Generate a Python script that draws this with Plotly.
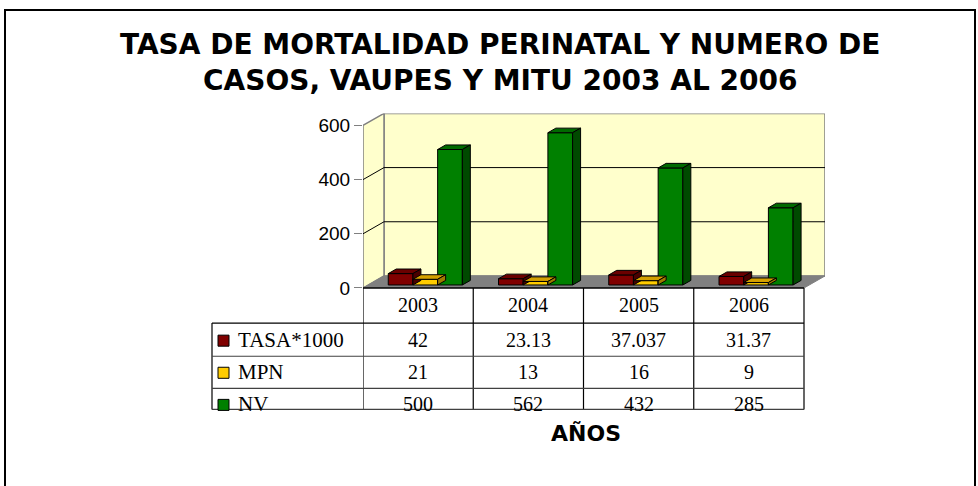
import plotly.graph_objects as go

# ---------------- data ----------------
years = ["2003", "2004", "2005", "2006"]
series_names = ["TASA*1000", "MPN", "NV"]
tasa = [42, 23.13, 37.037, 31.37]
mpn = [21, 13, 16, 9]
nv = [500, 562, 432, 285]
y_ticks = [0, 200, 400, 600]
title_text = "TASA DE MORTALIDAD PERINATAL Y NUMERO DE<br>CASOS, VAUPES Y MITU 2003 AL 2006"
x_title = "AÑOS"

# ---------------- styles ----------------
front_cols = ["#800000", "#FFCC00", "#008000"]
top_cols = ["#6a0000", "#D4A000", "#006a00"]
side_cols = ["#4a0000", "#A07A00", "#004a00"]
WALL = "#FFFFCC"
FLOOR = "#808080"
EDGE = "#808080"

W, H = 978, 486
S = 0.974   # vertical calibration of the capture
def px(x): return x / W
def py(y): return 1 - y / (H * S)

CAT_PX = 110.25          # pixel width of one category on the front plane
DEPTH_PX, DEPTH_PY = 21, 12
PX_PER_UNIT = 0.27       # vertical px per value unit
X0_PX, Y0_PX = 363, 287  # front-left-bottom corner
DXu = DEPTH_PX / CAT_PX
DYu = DEPTH_PY / PX_PER_UNIT
YTOP = 600
n = len(years)
ymax = (YTOP * PX_PER_UNIT + DEPTH_PY) / PX_PER_UNIT

ZB0, ZB1 = 0.25, 0.63     # bar depth positions (fraction of depth)
OFF = 20 / CAT_PX
BW = 24.7 / CAT_PX

fig = go.Figure()

values = [tasa, mpn, nv]
for s, vals in enumerate(values):
    xs_front = [i + OFF + (s + 0.5) * BW + ZB0 * DXu for i in range(n)]
    base = ZB0 * DYu
    fig.add_trace(go.Bar(x=xs_front, y=vals, base=[base] * n, width=BW,
                         marker=dict(color=front_cols[s], line=dict(color="black", width=1)),
                         name=series_names[s], showlegend=False, hoverinfo="skip"))
    ddx = (ZB1 - ZB0) * DXu
    ddy = (ZB1 - ZB0) * DYu
    tx, ty, sx, sy = [], [], [], []
    for i, v in enumerate(vals):
        xl = xs_front[i] - BW / 2
        xr = xs_front[i] + BW / 2
        top = base + v
        tx += [xl, xr, xr + ddx, xl + ddx, xl, None]
        ty += [top, top, top + ddy, top + ddy, top, None]
        sx += [xr, xr, xr + ddx, xr + ddx, xr, None]
        sy += [base, top, top + ddy, base + ddy, base, None]
    fig.add_trace(go.Scatter(x=tx, y=ty, fill="toself", fillcolor=top_cols[s], mode="lines",
                             line=dict(color="black", width=1), showlegend=False, hoverinfo="skip"))
    fig.add_trace(go.Scatter(x=sx, y=sy, fill="toself", fillcolor=side_cols[s], mode="lines",
                             line=dict(color="black", width=1), showlegend=False, hoverinfo="skip"))

shapes = []
# back wall
shapes.append(dict(type="rect", xref="x", yref="y", x0=DXu, x1=n + DXu, y0=DYu, y1=YTOP + DYu,
                   fillcolor=WALL, line=dict(color=EDGE, width=1.5), layer="below"))
# left wall
shapes.append(dict(type="path", xref="x", yref="y",
                   path=f"M 0 0 L {DXu} {DYu} L {DXu} {YTOP + DYu} L 0 {YTOP} Z",
                   fillcolor=WALL, line=dict(color=EDGE, width=1.5), layer="below"))
# floor
shapes.append(dict(type="path", xref="x", yref="y",
                   path=f"M 0 0 L {DXu} {DYu} L {n + DXu} {DYu} L {n} 0 Z",
                   fillcolor=FLOOR, line=dict(color=EDGE, width=1), layer="below"))
# gridlines
for v in y_ticks[1:-1]:
    shapes.append(dict(type="line", xref="x", yref="y", x0=0, y0=v, x1=DXu, y1=v + DYu,
                       line=dict(color="black", width=1), layer="below"))
    shapes.append(dict(type="line", xref="x", yref="y", x0=DXu, y0=v + DYu, x1=n + DXu, y1=v + DYu,
                       line=dict(color="black", width=1), layer="below"))

# ---------------- data table ----------------
TBL_L = 212
row_lines = [322, 355, 387, 408]
hdr_y = 304
row_y = [339, 371, 403]
shapes.append(dict(type="line", xref="x", yref="paper", x0=0, x1=n, y0=py(287), y1=py(287),
                   line=dict(color="black", width=1.5)))
for i in range(n + 1):
    shapes.append(dict(type="line", xref="x", yref="paper", x0=i, x1=i, y0=py(287), y1=py(408),
                       line=dict(color="black", width=1.2)))
shapes.append(dict(type="line", xref="paper", yref="paper", x0=px(TBL_L), x1=px(TBL_L),
                   y0=py(322), y1=py(408), line=dict(color="black", width=1.2)))
for k, yy in enumerate(row_lines):
    shapes.append(dict(type="line", xref="paper", yref="paper", x0=px(TBL_L), y0=py(yy), y1=py(yy),
                       x1=px(X0_PX + n * CAT_PX),
                       line=dict(color="black" if k == 0 else "#404040", width=1.2)))

annotations = []
for i, yr in enumerate(years):
    annotations.append(dict(x=i + 0.5, xref="x", y=py(hdr_y), yref="paper", text=yr, showarrow=False,
                            font=dict(family="Liberation Serif", size=20, color="black"),
                            xanchor="center", yanchor="middle"))
for s, vals in enumerate(values):
    shapes.append(dict(type="rect", xref="paper", yref="paper", x0=px(218), x1=px(229),
                       y0=py(row_y[s] + 6), y1=py(row_y[s] - 5),
                       fillcolor=front_cols[s], line=dict(color="black", width=1)))
    annotations.append(dict(x=px(236), xref="paper", y=py(row_y[s]), yref="paper",
                            text=series_names[s], showarrow=False, xanchor="left", yanchor="middle",
                            font=dict(family="Liberation Serif", size=21, color="black")))
    for i, v in enumerate(vals):
        annotations.append(dict(x=i + 0.5, xref="x", y=py(row_y[s]), yref="paper",
                                text=f"{v:g}", showarrow=False, xanchor="center", yanchor="middle",
                                font=dict(family="Liberation Serif", size=20, color="black")))

# title and axis title
annotations.append(dict(x=px(500), xref="paper", y=py(62), yref="paper",
                        text="<b>" + title_text + "</b>",
                        showarrow=False, xanchor="center", yanchor="middle",
                        font=dict(family="DejaVu Sans", size=28, color="black")))
annotations.append(dict(x=px(586), xref="paper", y=py(432), yref="paper", text=f"<b>{x_title}</b>",
                        showarrow=False, xanchor="center", yanchor="middle",
                        font=dict(family="DejaVu Sans", size=22, color="black")))

# outer frame
shapes.append(dict(type="rect", xref="paper", yref="paper", x0=px(5), x1=px(975), y0=py(540), y1=py(10),
                   line=dict(color="black", width=2), fillcolor="rgba(0,0,0,0)"))

fig.update_layout(
    width=W, height=H, margin=dict(l=0, r=0, t=0, b=0),
    paper_bgcolor="white", plot_bgcolor="rgba(0,0,0,0)",
    barmode="overlay", showlegend=False,
    shapes=shapes, annotations=annotations,
    xaxis=dict(domain=[px(X0_PX), px(X0_PX + n * CAT_PX + DEPTH_PX)], range=[0, n + DXu],
               showgrid=False, zeroline=False, showticklabels=False, ticks="", showline=False,
               fixedrange=True),
    yaxis=dict(domain=[py(Y0_PX), py(Y0_PX - ymax * PX_PER_UNIT)], range=[0, ymax],
               tickvals=y_ticks, ticktext=[str(t) for t in y_ticks],
               showgrid=False, zeroline=False, showline=False,
               ticks="outside", ticklen=8, tickcolor=EDGE, tickwidth=1,
               tickfont=dict(family="Liberation Sans", size=19, color="black"), fixedrange=True),
)

fig.write_html("out.html", config={"displayModeBar": False},
               post_script="document.body.style.margin='0';document.body.style.overflow='hidden';")
